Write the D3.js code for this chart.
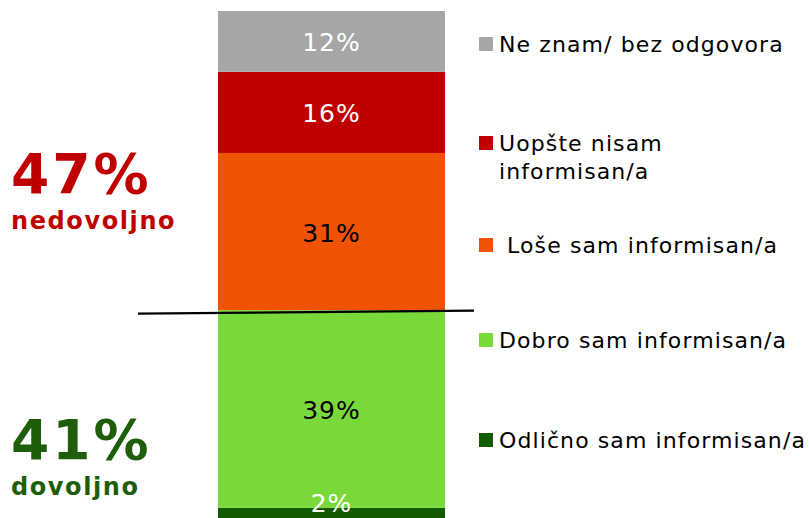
<!DOCTYPE html>
<html lang="hr">
<head>
<meta charset="UTF-8">
<title>Informisanost</title>
<script src="https://d3js.org/d3.v7.min.js"></script>
<style>
  body { margin: 0; background: #fff; }
  text { font-family: "DejaVu Sans", Verdana, sans-serif; }
</style>
</head>
<body>
<svg width="809" height="518"></svg>
<script>
// podaci, odozdo prema gore
var categories = ["Odlično sam informisan/a", "Dobro sam informisan/a", " Loše sam informisan/a", "Uopšte nisam informisan/a", "Ne znam/ bez odgovora"];
var values = [2, 39, 31, 16, 12];
var colors = ["#145a05", "#7ad93a", "#f05206", "#c00000", "#a6a6a6"];
var labelColors = ["#fff", "#000", "#000", "#fff", "#fff"];
var legendLines = [["Odlično sam informisan/a"], ["Dobro sam informisan/a"], [" Loše sam informisan/a"], ["Uopšte nisam", "informisan/a"], ["Ne znam/ bez odgovora"]];
var legendY = [440, 340, 245, 143, 44];
var summaryValues = ["47%", "41%"];
var summaryLabels = ["nedovoljno", "dovoljno"];

var svg = d3.select("svg");
var barLeft = 218, barRight = 445;

var y = d3.scaleLinear().domain([0, 100]).range([518, 11]);

// stack
var stacked = [];
var acc = 0;
values.forEach(function (v, i) {
  stacked.push({ i: i, y0: acc, y1: acc + v, v: v });
  acc += v;
});

var g = svg.append("g");
g.selectAll("rect").data(stacked).enter().append("rect")
  .attr("x", barLeft)
  .attr("width", barRight - barLeft)
  .attr("y", function (d) { return y(d.y1); })
  .attr("height", function (d) { return y(d.y0) - y(d.y1); })
  .attr("fill", function (d) { return colors[d.i]; });

g.selectAll("text").data(stacked).enter().append("text")
  .attr("x", (barLeft + barRight) / 2)
  .attr("y", function (d) {
    var mid = (y(d.y0) + y(d.y1)) / 2 + 10;
    return Math.min(mid, 512);
  })
  .attr("text-anchor", "middle")
  .attr("font-size", 25)
  .attr("letter-spacing", 1)
  .attr("fill", function (d) { return labelColors[d.i]; })
  .text(function (d) { return d.v + "%"; });

// linija izmedju dovoljno / nedovoljno
svg.append("line")
  .attr("x1", 138).attr("y1", y(41) + 3.5)
  .attr("x2", 474).attr("y2", y(41) + 0.5)
  .attr("stroke", "#000")
  .attr("stroke-width", 2.2);

// legenda
var leg = svg.selectAll(".leg").data(legendLines).enter().append("g")
  .attr("class", "leg")
  .attr("transform", function (d, i) { return "translate(479," + legendY[i] + ")"; });
leg.append("rect")
  .attr("x", 0).attr("y", -7).attr("width", 14).attr("height", 14)
  .attr("fill", function (d, i) { return colors[i]; });
leg.each(function (lines) {
  var t = d3.select(this).append("text")
    .attr("x", 20).attr("y", 8)
    .attr("font-size", 22)
    .attr("letter-spacing", 1.1)
    .attr("fill", "#000")
    .style("white-space", "pre");
  lines.forEach(function (l, k) {
    t.append("tspan").attr("x", 20).attr("dy", k === 0 ? 0 : 28).text(l);
  });
});

// lijevi sazetak
var sumColors = ["#c00000", "#1e5e0a"];
var sumY = [193, 459];
summaryValues.forEach(function (s, i) {
  svg.append("text")
    .attr("x", 11).attr("y", sumY[i])
    .attr("font-size", 55).attr("font-weight", "bold")
    .attr("letter-spacing", 3)
    .attr("fill", sumColors[i])
    .text(s);
  svg.append("text")
    .attr("x", 11).attr("y", sumY[i] + 36)
    .attr("font-size", 24).attr("font-weight", "bold")
    .attr("letter-spacing", 1.6)
    .attr("fill", sumColors[i])
    .text(summaryLabels[i]);
});
</script>
</body>
</html>
